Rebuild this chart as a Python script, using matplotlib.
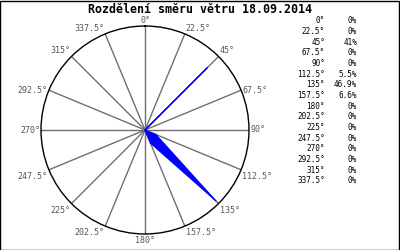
import numpy as np
import matplotlib
matplotlib.use("Agg")
import matplotlib.pyplot as plt

# wind direction distribution
directions = [0, 22.5, 45, 67.5, 90, 112.5, 135, 157.5,
              180, 202.5, 225, 247.5, 270, 292.5, 315, 337.5]
shares = [0, 0, 41, 0, 0, 5.5, 46.9, 6.6, 0, 0, 0, 0, 0, 0, 0, 0]
share_labels = ["0%", "0%", "41%", "0%", "0%", "5.5%", "46.9%", "6.6%",
                "0%", "0%", "0%", "0%", "0%", "0%", "0%", "0%"]
title = "Rozdělení směru větru 18.09.2014"

def fmt_deg(d):
    return f"{d:g}°"

fig = plt.figure(figsize=(4, 2.5), dpi=100)
fig.patch.set_facecolor("white")

# frame round the picture
fig.add_artist(plt.Rectangle((0.0012, 0.002), 0.9963, 0.994, transform=fig.transFigure,
                             fill=False, edgecolor="black", linewidth=1))

fig.text(0.5, 0.962, title, ha="center", va="center", fontsize=8.4,
         fontweight="bold", family="DejaVu Sans Mono")

cx, cy, rad = 145, 120, 104
ax = fig.add_axes([(cx - rad) / 400, (cy - rad) / 250, 2 * rad / 400, 2 * rad / 250],
                  projection="polar")
ax.set_theta_zero_location("N")
ax.set_theta_direction(-1)
rmax = 48.5
ax.set_ylim(0, rmax)
ax.grid(False)
ax.set_xticks([])
ax.set_yticks([])
ax.spines["polar"].set_color("black")
ax.spines["polar"].set_linewidth(1)

theta = np.deg2rad(directions)
for t in theta:
    ax.plot([t, t], [0, rmax], color="#707070", lw=1, zorder=1)

tt = np.append(theta, theta[0])
rr = np.append(shares, shares[0])
ax.fill(tt, rr, color="blue", zorder=3, lw=0)
ax.plot(tt, rr, color="blue", lw=0.8, zorder=3)

for d, t in zip(directions, theta):
    s, c = np.sin(t), np.cos(t)
    if abs(s) < 0.1:
        ha = "center"
    elif s > 0:
        ha = "left"
    else:
        ha = "right"
    if c > 0.5:
        va, dy = "bottom", 1
    elif c > -0.2:
        va, dy = "center", 0
    else:
        va, dy = "top", -2
    dx = 0 if ha == "center" else (1 if ha == "left" else -1)
    ax.annotate(fmt_deg(d), xy=(t, rmax), xytext=(dx * 0.72, dy * 0.72),
                textcoords="offset points", ha=ha, va=va, fontsize=6,
                color="#555555", family="DejaVu Sans Mono", annotation_clip=False)

# table on the right
y0, step = 20.7, 10.67
for i, (d, lab) in enumerate(zip(directions, share_labels)):
    y = 1 - (y0 + i * step) / 250
    fig.text(325 / 400, y, fmt_deg(d), ha="right", va="center", fontsize=5.5,
             family="DejaVu Sans Mono", color="black")
    fig.text(357 / 400, y, lab, ha="right", va="center", fontsize=5.5,
             family="DejaVu Sans Mono", color="black")

fig.savefig("out.png", dpi=100, facecolor="white")
